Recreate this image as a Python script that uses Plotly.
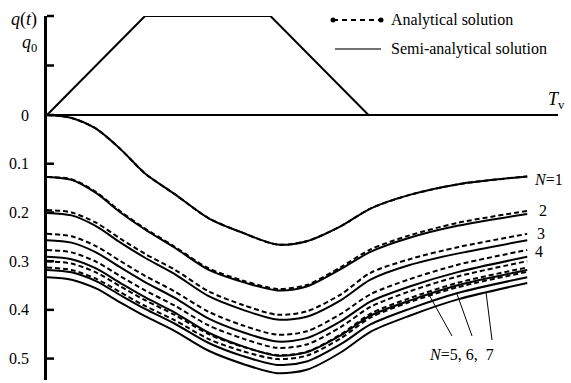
import plotly.graph_objects as go

# ---------------- data ----------------
# dimensionless time (horizontal axis)
T = [0, 0.25, 0.5, 0.75, 1.0, 1.3, 1.65, 2.0, 2.35, 2.65, 3.0, 3.3, 3.7, 4.2, 4.9]

# settlement values (plotted downward), semi-analytical solution
semi_N1 = [0.000, 0.006, 0.028, 0.070, 0.120, 0.162, 0.212, 0.242, 0.266, 0.259, 0.228, 0.192, 0.164, 0.142, 0.126]
semi_N2 = [0.127, 0.133, 0.160, 0.200, 0.235, 0.272, 0.318, 0.343, 0.360, 0.352, 0.316, 0.281, 0.252, 0.227, 0.203]
semi_N3 = [0.201, 0.206, 0.228, 0.262, 0.293, 0.326, 0.372, 0.400, 0.420, 0.414, 0.380, 0.338, 0.308, 0.284, 0.257]
semi_N4 = [0.257, 0.262, 0.282, 0.313, 0.343, 0.375, 0.418, 0.446, 0.465, 0.458, 0.423, 0.383, 0.352, 0.322, 0.291]
semi_N5 = [0.291, 0.296, 0.315, 0.345, 0.374, 0.405, 0.447, 0.475, 0.494, 0.487, 0.452, 0.412, 0.381, 0.349, 0.318]
semi_N6 = [0.318, 0.323, 0.341, 0.370, 0.398, 0.428, 0.468, 0.495, 0.513, 0.506, 0.470, 0.430, 0.398, 0.365, 0.333]
semi_N7 = [0.333, 0.338, 0.356, 0.385, 0.413, 0.443, 0.484, 0.511, 0.530, 0.523, 0.487, 0.445, 0.412, 0.378, 0.345]

# analytical solution
anal_N1 = [0.000, 0.006, 0.028, 0.070, 0.120, 0.162, 0.212, 0.242, 0.266, 0.259, 0.228, 0.192, 0.164, 0.142, 0.126]
anal_N2 = [0.127, 0.132, 0.158, 0.198, 0.233, 0.270, 0.315, 0.340, 0.357, 0.349, 0.312, 0.276, 0.247, 0.221, 0.197]
anal_N3 = [0.195, 0.200, 0.221, 0.254, 0.285, 0.317, 0.362, 0.390, 0.410, 0.403, 0.368, 0.324, 0.296, 0.271, 0.244]
anal_N4 = [0.244, 0.249, 0.269, 0.300, 0.330, 0.362, 0.404, 0.432, 0.451, 0.444, 0.408, 0.368, 0.337, 0.307, 0.277]
anal_N5 = [0.277, 0.282, 0.301, 0.331, 0.360, 0.391, 0.432, 0.459, 0.478, 0.471, 0.435, 0.394, 0.362, 0.331, 0.300]
anal_N6 = [0.300, 0.305, 0.323, 0.352, 0.380, 0.410, 0.450, 0.476, 0.493, 0.486, 0.450, 0.408, 0.376, 0.344, 0.313]
anal_N7 = [0.313, 0.318, 0.336, 0.364, 0.392, 0.421, 0.460, 0.485, 0.501, 0.494, 0.458, 0.416, 0.384, 0.353, 0.322]

# load history q(t)/q0 (trapezoid)
load_T = [0, 1.0, 2.28, 3.28, 5.2]
load_q = [0, 1, 1, 0, 0]
q_ticks = [0.5, 1.0]

# tick values / labels of the settlement part
s_ticks = [0, 0.1, 0.2, 0.3, 0.4, 0.5]
s_labels = ["0", "0.1", "0.2", "0.3", "0.4", "0.5"]

# ---------------- figure ----------------
Q_SCALE = 0.2033   # height of q0 in settlement units on the shared axis
FONT = "Liberation Serif, Times New Roman, serif"
W, H = 571, 383
ML, MR, MT, MB = 47, 13, 16, 3
X_MAX = 5.214
Y_MIN, Y_MAX = -0.544, Q_SCALE
PW, PH = W - ML - MR, H - MT - MB

fig = go.Figure()

# load trapezoid
fig.add_trace(go.Scatter(x=load_T, y=[q * Q_SCALE for q in load_q], mode="lines",
                         line=dict(color="black", width=2), showlegend=False,
                         hoverinfo="skip"))

anal = [anal_N1, anal_N2, anal_N3, anal_N4, anal_N5, anal_N6, anal_N7]
semi = [semi_N1, semi_N2, semi_N3, semi_N4, semi_N5, semi_N6, semi_N7]
for i, s in enumerate(anal):
    fig.add_trace(go.Scatter(x=T, y=[-v for v in s], mode="lines",
                             line=dict(color="black", width=2, dash="5px,3px", shape="spline", smoothing=0.8),
                             name=f"Analytical N={i+1}", showlegend=False))
for i, s in enumerate(semi):
    fig.add_trace(go.Scatter(x=T, y=[-v for v in s], mode="lines",
                             line=dict(color="black", width=2, shape="spline", smoothing=0.8),
                             name=f"Semi-analytical N={i+1}", showlegend=False))

fig.update_layout(
    width=W, height=H,
    margin=dict(l=ML, r=MR, t=MT, b=MB, autoexpand=False),
    paper_bgcolor="white", plot_bgcolor="white",
    font=dict(family=FONT, size=16, color="black"),
    xaxis=dict(range=[0, X_MAX], visible=False),
    yaxis=dict(range=[Y_MIN, Y_MAX], showgrid=False, zeroline=True,
               zerolinecolor="black", zerolinewidth=2,
               showline=True, linecolor="black", linewidth=2.5,
               ticks="", tickvals=[-v for v in s_ticks], ticktext=s_labels,
               ticklabelstandoff=12, tickfont=dict(family=FONT, size=16)),
)

# pixel -> paper helpers (for decorations only)
def pxp(px):
    return (px - ML) / PW

def pyp(py):
    return (H - MB - py) / PH

ann = []
def text(px, py, s, anchor="left", size=16):
    ann.append(dict(x=pxp(px), y=pyp(py), xref="paper", yref="paper", text=s,
                    showarrow=False, xanchor=anchor, yanchor="middle", font=dict(size=size)))

# axis title q(t)/q0
text(39, 20, "<i>q</i>(<i>t</i>)", "right", 18)
text(39, 44, "<i>q</i><sub>0</sub>", "right", 18)
# T_v
text(546, 101, "<i>T</i><sub>v</sub>", "left", 18)
# legend text
text(389, 20, "Analytical solution")
text(389, 49, "Semi-analytical solution")
# curve labels
text(532, 179, "<i>N</i>=1")
text(537, 210, "2")
text(535, 233, "3")
text(533, 252, "4")
text(461, 354, "<i>N</i>=5, 6,  7", "center")

shapes = []
def pline(xa, ya, xb, yb, **ln):
    shapes.append(dict(type="line", xref="paper", yref="paper", x0=pxp(xa), y0=pyp(ya),
                       x1=pxp(xb), y1=pyp(yb), line=ln))

# inward tick marks on the vertical axis
tick_y = [q * Q_SCALE for q in q_ticks] + [-v for v in s_ticks]
for ty in tick_y:
    py = MT + (Y_MAX - ty) / (Y_MAX - Y_MIN) * PH
    pline(ML, py, ML + 7, py, color="black", width=2.5)

# legend samples
pline(333, 20, 381, 20, color="black", width=2, dash="5px,4px")
for px in (333, 381):
    shapes.append(dict(type="circle", xref="paper", yref="paper", xsizemode="pixel", ysizemode="pixel",
                       xanchor=pxp(px), yanchor=pyp(20), x0=-2.5, x1=2.5, y0=-2.5, y1=2.5,
                       fillcolor="black", line=dict(color="black", width=0)))
pline(335, 49, 381, 49, color="#444", width=1.5)
# pointer lines for N=5,6,7
for (xa, ya, xb, yb) in [(428, 293, 452, 336), (457, 294, 472, 336), (486, 292, 492, 340)]:
    pline(xa, ya, xb, yb, color="black", width=1)

fig.update_layout(annotations=ann, shapes=shapes)
fig.write_html("out.html", config={"displayModeBar": False},
               post_script="document.body.style.margin='0';")
